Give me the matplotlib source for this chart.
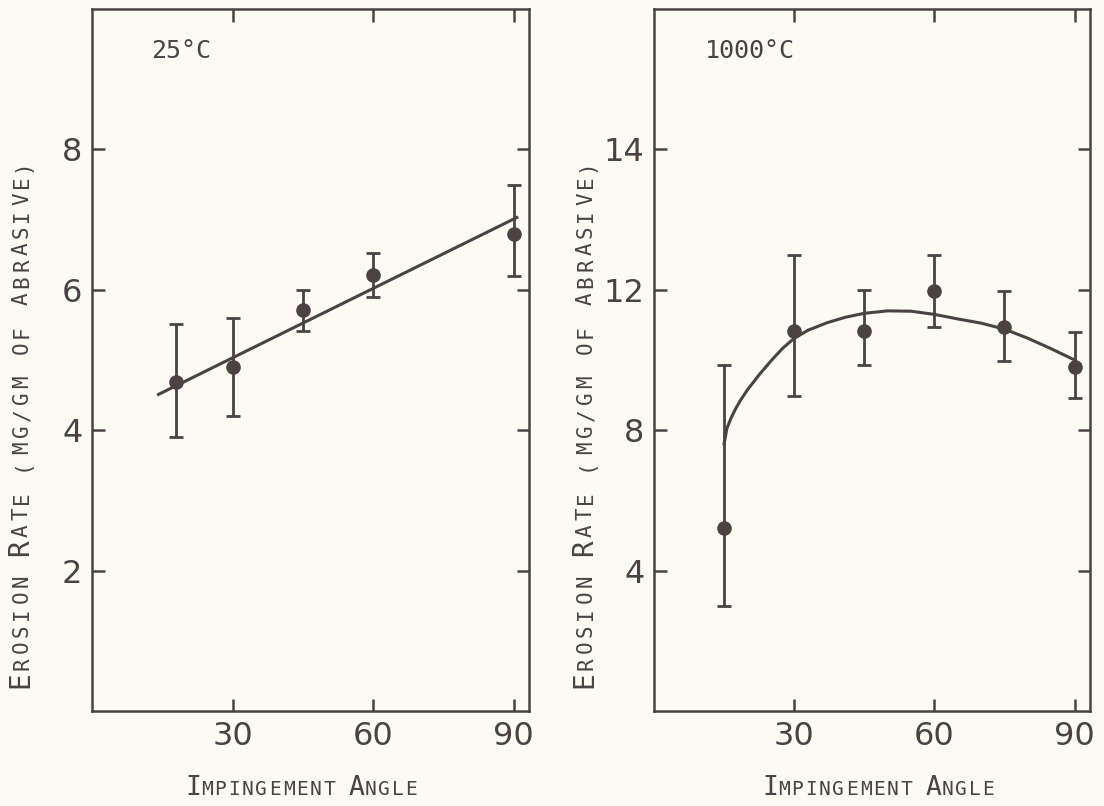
import matplotlib
matplotlib.use("Agg")
import matplotlib.pyplot as plt
from matplotlib import font_manager

# ---- data ----
# 25 C panel
angle_25 = [18, 30, 45, 60, 90]
rate_25 = [4.69, 4.90, 5.71, 6.21, 6.80]
err_lo_25 = [3.91, 4.20, 5.41, 5.90, 6.19]
err_hi_25 = [5.51, 5.60, 6.00, 6.53, 7.49]
fit_x_25 = [14.2, 90.7]
fit_y_25 = [4.51, 7.03]

# 1000 C panel
angle_1000 = [15, 30, 45, 60, 75, 90]
rate_1000 = [5.2, 10.82, 10.82, 11.98, 10.94, 9.80]
err_lo_1000 = [3.0, 8.98, 9.85, 10.94, 9.97, 8.92]
err_hi_1000 = [9.86, 13.0, 12.0, 13.0, 11.98, 10.8]
curve_x_1000 = [15, 15.6, 16.5, 17.5, 18.5, 20, 22.5, 25, 27.5, 30, 33, 37,
                41, 45, 50, 55, 60, 65, 70, 75, 80, 85, 90]
curve_y_1000 = [7.61, 8.05, 8.35, 8.62, 8.85, 9.15, 9.58, 9.97, 10.33, 10.62,
                10.85, 11.06, 11.22, 11.33, 11.40, 11.39, 11.30, 11.17, 11.05,
                10.88, 10.62, 10.32, 10.0]

x_ticks = [30, 60, 90]
y_ticks_25 = [2, 4, 6, 8]
y_ticks_1000 = [4, 8, 12, 16]
y_ticklabels_1000 = ["4", "8", "12", "14"]

ink = "#4a4243"
paper = "#fbfbf4"


def pick(names):
    avail = {f.name for f in font_manager.fontManager.ttflist}
    for n in names:
        if n in avail:
            return n
    return "DejaVu Sans"


narrow = pick(["Liberation Sans Narrow", "DejaVu Sans"])
mono = "DejaVu Sans Mono"

fig = plt.figure(figsize=(11.04, 8.06), dpi=100, facecolor=paper)

ax1 = fig.add_axes([92 / 1104, 1 - 711 / 806, 437 / 1104, 702 / 806])
ax2 = fig.add_axes([654 / 1104, 1 - 711 / 806, 436 / 1104, 702 / 806])


def style(ax, yticks, ylim):
    ax.set_facecolor(paper)
    ax.set_xlim(0, 93.3)
    ax.set_ylim(*ylim)
    ax.set_xticks(x_ticks)
    ax.set_yticks(yticks)
    ax.tick_params(direction="in", length=9, width=1.8, color=ink,
                   top=True, right=True, labelsize=23, labelcolor=ink, pad=7)
    for s in ax.spines.values():
        s.set_linewidth(1.8)
        s.set_color(ink)


def draw(ax, x, y, lo, hi):
    yerr = [[v - l for v, l in zip(y, lo)], [h - v for v, h in zip(y, hi)]]
    ax.errorbar(x, y, yerr=yerr, fmt="o", color=ink, ms=9.5,
                elinewidth=2, capsize=5, capthick=2)


style(ax1, y_ticks_25, (0, 10))
draw(ax1, angle_25, rate_25, err_lo_25, err_hi_25)
ax1.plot(fit_x_25, fit_y_25, color=ink, lw=2.2)
ax1.text(12.6, 9.4, "25°C", family=mono, fontsize=18, color=ink, va="center")

style(ax2, y_ticks_1000, (0, 20))
ax2.set_yticklabels(y_ticklabels_1000)
draw(ax2, angle_1000, rate_1000, err_lo_1000, err_hi_1000)
ax2.plot(curve_x_1000, curve_y_1000, color=ink, lw=2.2)
ax2.text(11, 18.8, "1000°C", family=mono, fontsize=18, color=ink, va="center")

for ax in (ax1, ax2):
    for lab in ax.get_xticklabels() + ax.get_yticklabels():
        lab.set_family(narrow)


def small_caps(x, y, text, pitch, vertical=False, big=19, small=14):
    # typewriter small caps: upper case letters big, the rest small caps,
    # one character per fixed step
    for i, ch in enumerate(text):
        if ch == " ":
            continue
        size = big if ch.isupper() else small
        if vertical:
            px, py, rot = x, y - i * pitch, 90
        else:
            px, py, rot = x + i * pitch, y, 0
        fig.text(px / 1104, 1 - py / 806, ch.upper(), rotation=rot,
                 rotation_mode="anchor", ha="center", va="baseline",
                 family=mono, fontsize=size, color=ink)


xlabel = "Impingement Angle"
ylabel = "Erosion Rate (mg/gm of abrasive)"

small_caps(193, 795, xlabel, 13.65)
small_caps(770, 795, xlabel, 13.65)
small_caps(28, 680, ylabel, 16.6, vertical=True, big=20, small=15)
small_caps(592, 680, ylabel, 16.6, vertical=True, big=20, small=15)

fig.savefig("out.png", dpi=100, facecolor=paper)
